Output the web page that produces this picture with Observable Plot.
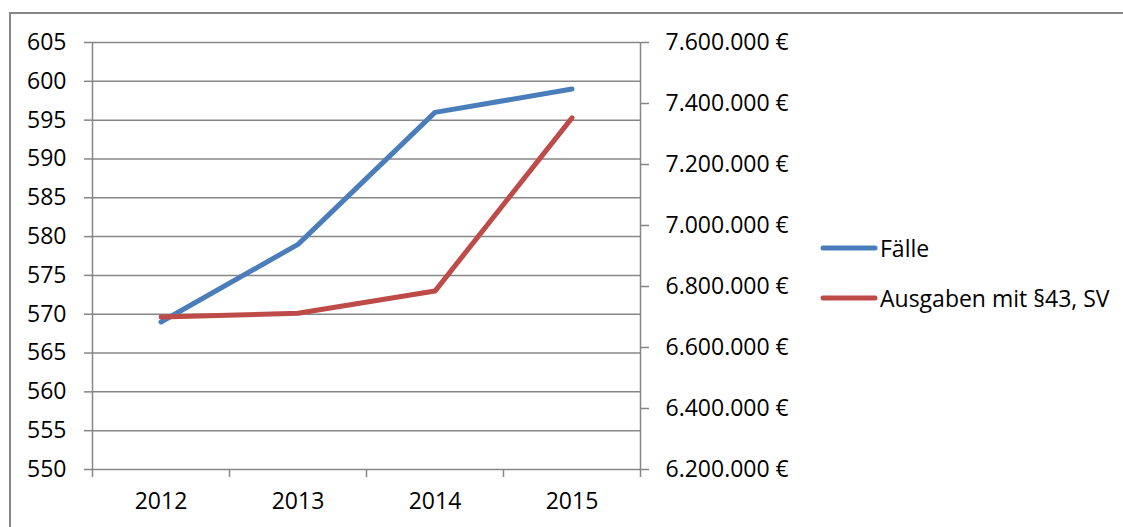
<!DOCTYPE html>
<html>
<head>
<meta charset="utf-8">
<script src="https://cdn.jsdelivr.net/npm/d3@7"></script>
<script src="https://cdn.jsdelivr.net/npm/@observablehq/plot@0.6"></script>
<style>
  html, body { margin: 0; padding: 0; background: #fff; overflow: hidden; }
  body { width: 1123px; height: 527px; position: relative; font-family: "Open Sans", sans-serif; }
  #frame { position: absolute; left: 9px; top: 12px; width: 1200px; height: 600px; border: 2px solid #868686; box-sizing: border-box; }
  #chart { position: absolute; left: 0; top: 0; }
  #legend { position: absolute; left: 820px; top: 223px; font-size: 23px; color: #000; }
  .item { display: flex; align-items: center; height: 50px; }
  .item svg { margin-right: 2px; }
</style>
</head>
<body>
<div id="frame"></div>
<div id="chart"></div>
<div id="legend"></div>
<script>
const years = ["2012", "2013", "2014", "2015"];
const faelle = [569, 579, 596, 599];
const ausgaben = [6700000, 6712000, 6785000, 7353000];
const leftTicks = [550, 555, 560, 565, 570, 575, 580, 585, 590, 595, 600, 605];
const rightTicks = [6200000, 6400000, 6600000, 6800000, 7000000, 7200000, 7400000, 7600000];
const seriesNames = ["Fälle", "Ausgaben mit §43, SV"];
const seriesColors = ["#4a7ebb", "#be4b48"];

// right axis range mapped onto left axis range
const leftMin = 550, leftMax = 605, rightMin = 6200000, rightMax = 7600000;
const toLeft = e => leftMin + (e - rightMin) / (rightMax - rightMin) * (leftMax - leftMin);
const toRight = v => rightMin + (v - leftMin) / (leftMax - leftMin) * (rightMax - rightMin);

const de = d3.formatLocale({decimal: ",", thousands: ".", grouping: [3], currency: ["", " €"]});
const euro = de.format("$,.0f");

const rows = [];
years.forEach((y, i) => {
  rows.push({pos: i + 0.5, value: faelle[i], series: seriesNames[0]});
});
years.forEach((y, i) => {
  rows.push({pos: i + 0.5, value: toLeft(ausgaben[i]), series: seriesNames[1]});
});

const gray = "#868686";
const chart = Plot.plot({
  width: 1123,
  height: 527,
  marginLeft: 92,
  marginRight: 483,
  marginTop: 42,
  marginBottom: 58,
  x: {domain: [0, years.length], axis: null},
  y: {domain: [leftMin, leftMax], axis: null},
  color: {domain: seriesNames, range: seriesColors},
  style: {fontFamily: "Open Sans, sans-serif", fontSize: "23px", color: "#000", background: "transparent", overflow: "visible"},
  marks: [
    Plot.gridY(leftTicks, {stroke: gray, strokeOpacity: 1, strokeWidth: 1.5}),
    Plot.axisY(leftTicks, {anchor: "left", tickSize: 8, tickPadding: 18, stroke: gray, strokeWidth: 1.5, label: null, fontSize: 23}),
    Plot.axisY(rightTicks.map(toLeft), {anchor: "right", tickSize: 8, tickPadding: 17, stroke: gray, strokeWidth: 1.5, label: null, fontSize: 23, tickFormat: v => euro(Math.round(toRight(v)))}),
    Plot.axisX(d3.range(years.length + 1), {anchor: "bottom", tickSize: 8, tickFormat: () => "", stroke: gray, strokeWidth: 1.5, label: null}),
    Plot.axisX(years.map((y, i) => i + 0.5), {anchor: "bottom", tickSize: 0, tickPadding: 23, label: null, fontSize: 23, tickFormat: v => years[Math.round(v - 0.5)]}),
    Plot.ruleX([0, years.length], {stroke: gray, strokeWidth: 1.5}),
    Plot.line(rows, {x: "pos", y: "value", z: "series", stroke: "series", strokeWidth: 5, strokeLinecap: "round", strokeLinejoin: "round"})
  ]
});
document.getElementById("chart").appendChild(chart);

const legend = document.getElementById("legend");
seriesNames.forEach((name, i) => {
  const item = document.createElement("div");
  item.className = "item";
  item.innerHTML = `<svg width="58" height="10"><line x1="3" y1="5" x2="55" y2="5" stroke="${seriesColors[i]}" stroke-width="5" stroke-linecap="round"/></svg><span>${name}</span>`;
  legend.appendChild(item);
});
</script>
</body>
</html>
